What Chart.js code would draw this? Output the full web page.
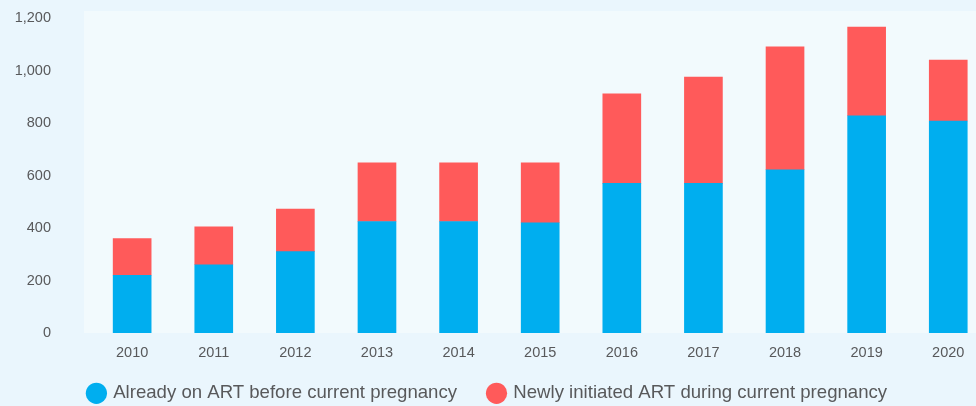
<!DOCTYPE html>
<html>
<head>
<meta charset="utf-8">
<script src="https://cdn.jsdelivr.net/npm/chart.js@4/dist/chart.umd.min.js"></script>
<style>
  html, body { margin: 0; padding: 0; background: #eaf6fd; }
  #wrap { width: 976px; height: 406px; position: relative; }
</style>
</head>
<body>
<div id="wrap"><canvas id="c"></canvas></div>
<script>
const categories = [2010, 2011, 2012, 2013, 2014, 2015, 2016, 2017, 2018, 2019, 2020];
const alreadyOnART = [220, 260, 310, 425, 425, 420, 570, 570, 622, 828, 808];
const newlyInitiated = [140, 145, 162, 223, 223, 228, 341, 405, 468, 338, 232];
const seriesLabels = ['Already on ART before current pregnancy', 'Newly initiated ART during current pregnancy'];
const yTickValues = [0, 200, 400, 600, 800, 1000, 1200];

const FONT = "'Liberation Sans', Arial, sans-serif";
const TEXT = '#58595b';

const bgPlugin = {
  id: 'bg',
  beforeDraw(chart) {
    const { ctx, chartArea: a, width, height } = chart;
    ctx.save();
    ctx.fillStyle = '#eaf6fd';
    ctx.fillRect(0, 0, width, height);
    ctx.fillStyle = '#f2fafd';
    ctx.fillRect(a.left, a.top, a.right - a.left, a.bottom - a.top);
    ctx.restore();
  }
};

const legendPos = {
  id: 'legendPos',
  afterInit(chart) {
    const lg = chart.legend;
    if (!lg) return;
    const fit = lg.fit;
    lg.fit = function () { fit.call(this); this.height = 43; };
  },
  afterLayout(chart) {
    const lg = chart.legend;
    if (!lg) return;
    lg.top = chart.chartArea.bottom + 19;
    lg.bottom = chart.height;
    lg.height = lg.bottom - lg.top;
  }
};

new Chart(document.getElementById('c'), {
  type: 'bar',
  data: {
    datasets: [
      {
        label: seriesLabels[0],
        data: categories.map((c, i) => ({ x: c, y: alreadyOnART[i] })),
        backgroundColor: '#00aeef',
        barThickness: 38
      },
      {
        label: seriesLabels[1],
        data: categories.map((c, i) => ({ x: c, y: newlyInitiated[i] })),
        backgroundColor: '#ff5a5a',
        barThickness: 38
      }
    ]
  },
  options: {
    responsive: true,
    maintainAspectRatio: false,
    animation: false,
    layout: { padding: { top: 11, left: 0, right: 0, bottom: 0 } },
    scales: {
      x: {
        type: 'linear',
        bounds: 'data',
        offset: false,
        stacked: true,
        min: 2009.41,
        max: 2020.34,
        grid: { display: false, drawTicks: false },
        border: { display: false },
        afterBuildTicks(axis) { axis.ticks = categories.map(v => ({ value: v })); },
        afterFit(axis) {
          axis.height = 30;
          axis.paddingLeft = 0; axis.paddingRight = 0;
          axis.paddingTop = 0; axis.paddingBottom = 0;
        },
        ticks: {
          padding: 11,
          color: TEXT,
          font: { family: FONT, size: 14.5 },
          callback: (v) => String(v)
        }
      },
      y: {
        bounds: 'data',
        stacked: true,
        min: 0,
        max: 1227,
        grid: { display: false, drawTicks: false },
        border: { display: false },
        afterFit(axis) {
          axis.width = 84;
          axis.paddingTop = 0; axis.paddingBottom = 0;
          axis.paddingLeft = 0; axis.paddingRight = 0;
        },
        afterBuildTicks(axis) { axis.ticks = yTickValues.map(v => ({ value: v })); },
        ticks: {
          padding: 33,
          color: TEXT,
          font: { family: FONT, size: 14.5 },
          callback: (v) => v.toLocaleString('en-US')
        }
      }
    },
    plugins: {
      tooltip: { enabled: false },
      legend: {
        position: 'bottom',
        labels: {
          usePointStyle: true,
          pointStyle: 'circle',
          boxWidth: 15,
          boxHeight: 15,
          padding: 32,
          color: TEXT,
          font: { family: FONT, size: 18.6 }
        }
      }
    }
  },
  plugins: [bgPlugin, legendPos]
});
</script>
</body>
</html>
